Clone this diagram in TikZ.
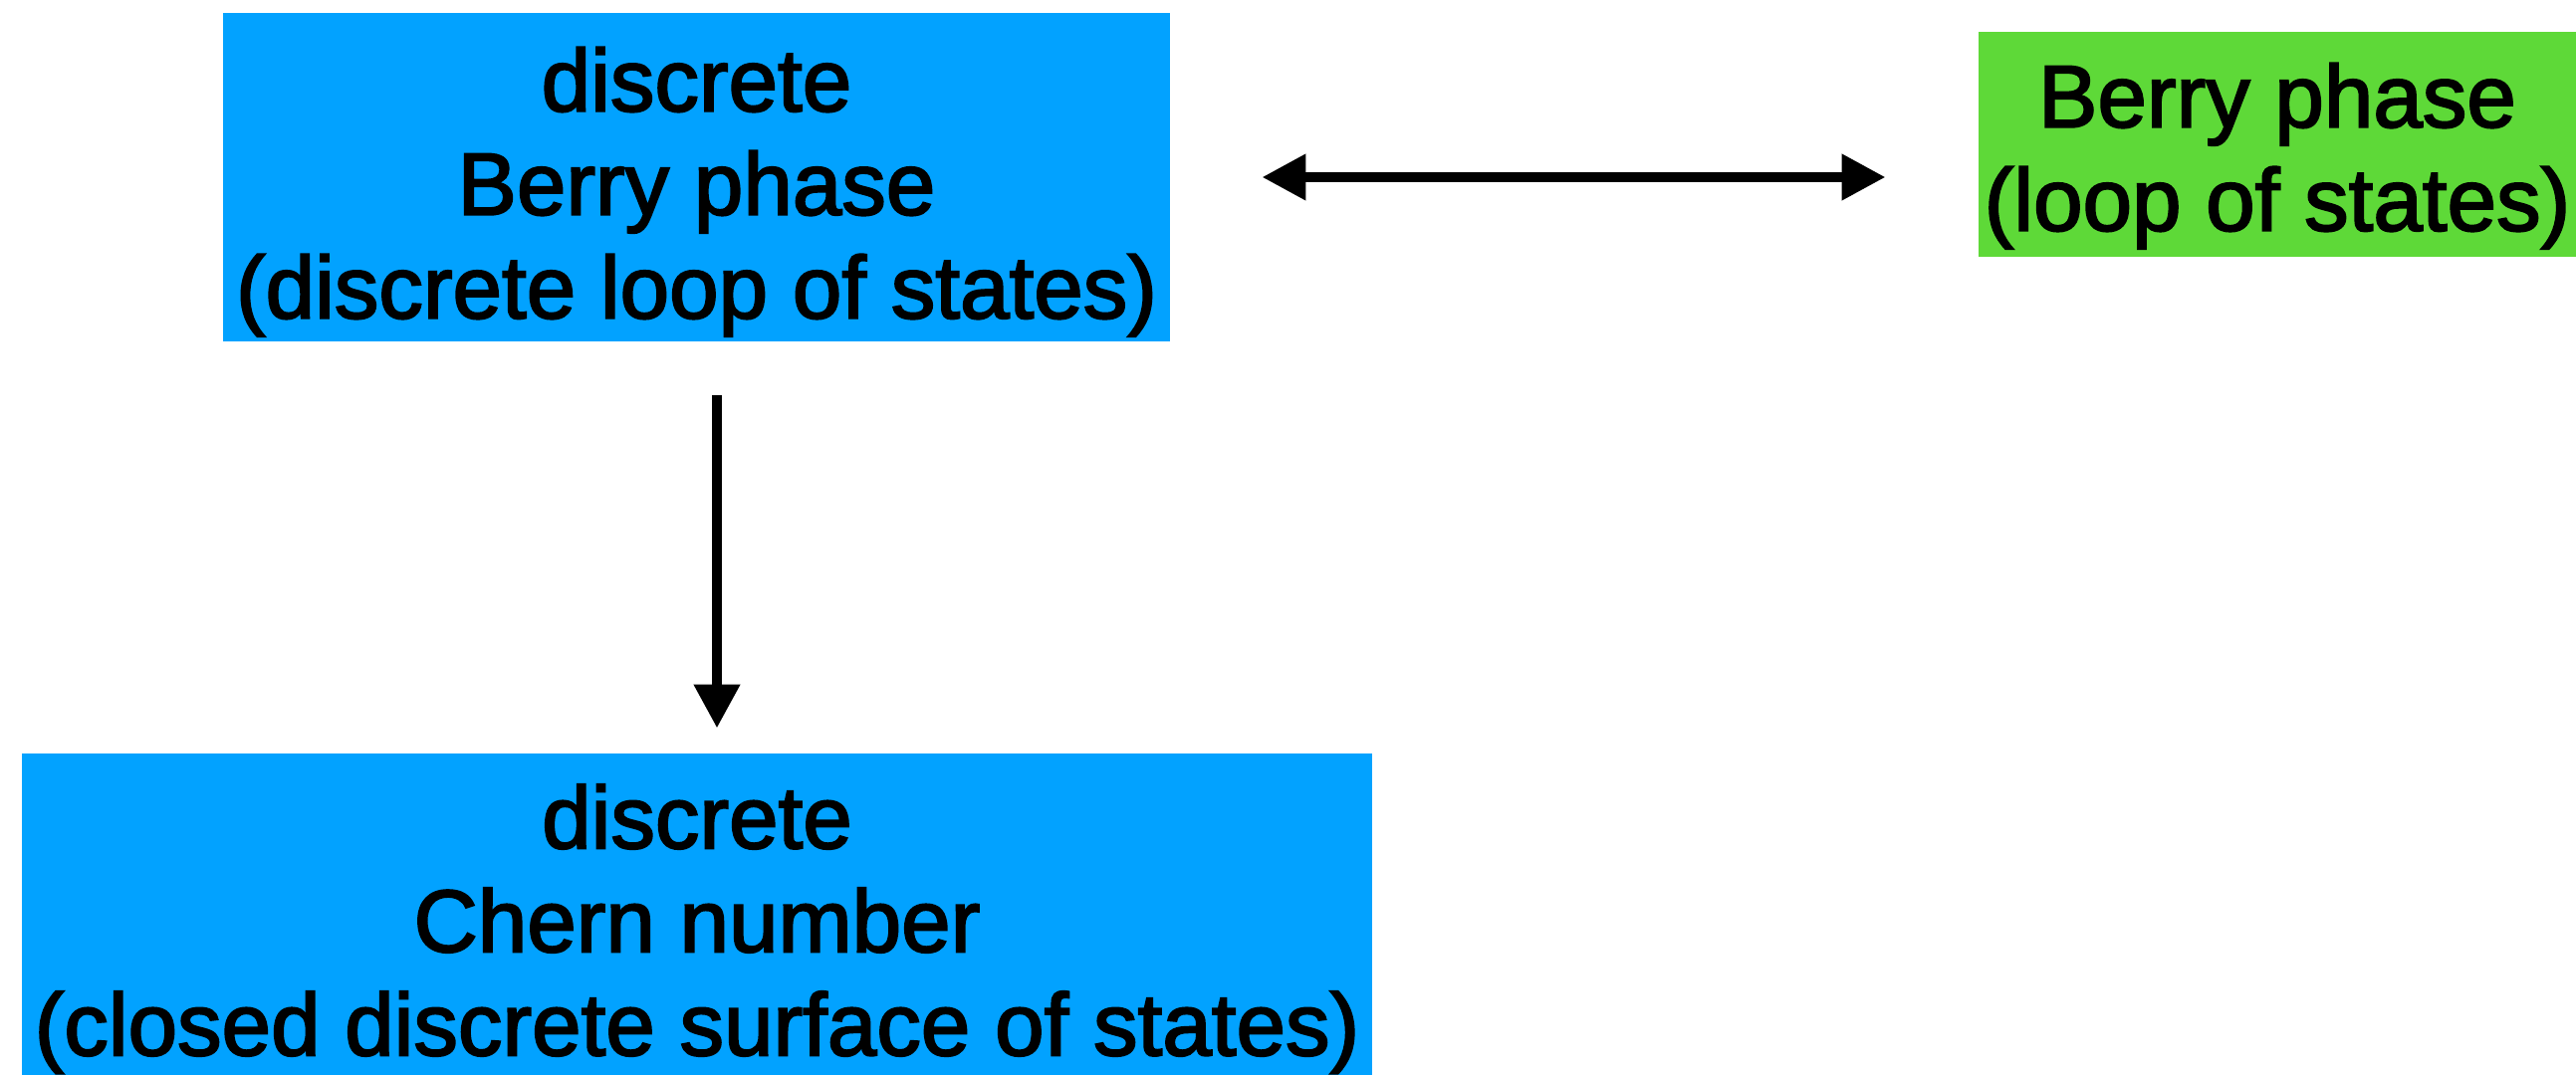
\documentclass[tikz,border=0pt]{standalone}
\usepackage{fontspec}
\setmainfont{Liberation Sans}
\newfontfamily\boxfont[FakeBold=2.2]{Liberation Sans}
\usetikzlibrary{arrows.meta,calc}
\definecolor{boxblue}{RGB}{2,162,255}
\definecolor{boxgreen}{RGB}{94,217,56}
\begin{document}
\begin{tikzpicture}[x=0.5pt,y=-0.5pt,
  box/.style={rectangle, inner sep=0pt, align=center,
    font=\boxfont\fontsize{44.5}{52}\selectfont},
  conn/.style={line width=5.2pt, {Triangle[length=22pt,width=22pt]}-{Triangle[length=22pt,width=22pt]}},
  conn1/.style={line width=5.2pt, -{Triangle[length=22pt,width=22pt]}}]
\useasboundingbox (0,0) rectangle (2587,1080);
\node[box, fill=boxblue, minimum width=475.5pt, minimum height=165pt] (top) at (699.5,178)
  {\rule{0pt}{47pt}discrete\\Berry phase\\(discrete loop of states)};
\node[box, fill=boxgreen, minimum width=300pt, minimum height=113pt] (green) at (2287,145)
  {\rule{0pt}{44pt}Berry phase\\(loop of states)};
\node[box, fill=boxblue, minimum width=678pt, minimum height=161.5pt] (bottom) at (700,918.5)
  {\rule{0pt}{47pt}discrete\\Chern number\\(closed discrete surface of states)};
\coordinate (h1) at ([xshift=46pt]top.east);
\coordinate (h2) at ([xshift=-46.5pt]h1 -| green.west);
\draw[conn] (h1) -- (h2);
\coordinate (v1) at ([xshift=10.25pt,yshift=-27pt]top.south);
\coordinate (v2) at ([yshift=12.5pt]v1 |- bottom.north);
\draw[conn1] (v1) -- (v2);
\end{tikzpicture}
\end{document}
